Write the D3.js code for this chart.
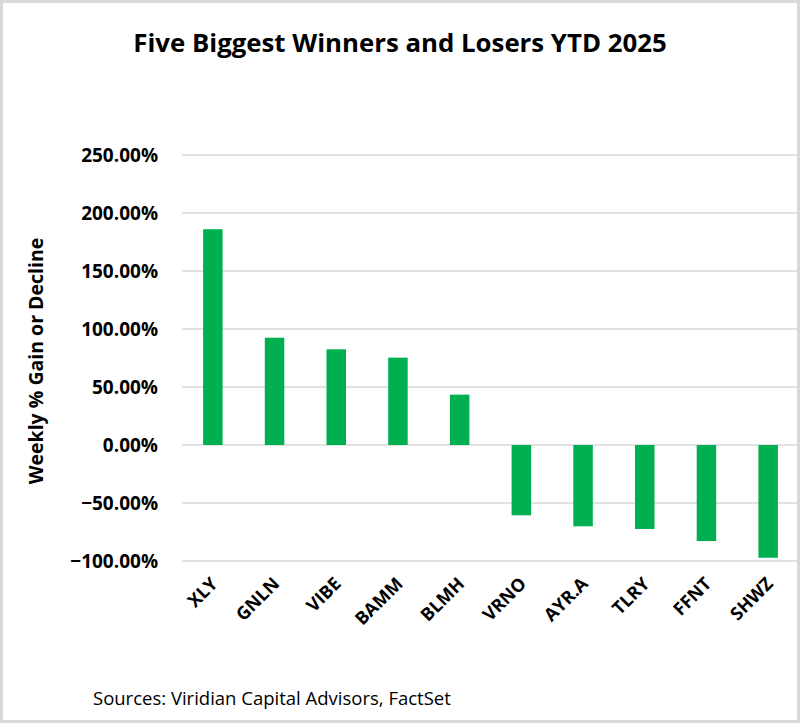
<!DOCTYPE html>
<html>
<head>
<meta charset="utf-8">
<script src="https://cdn.jsdelivr.net/npm/d3@7"></script>
<style>
  html, body { margin: 0; padding: 0; background: #fff; }
  svg { display: block; }
  text { font-family: "Open Sans", "Noto Sans", sans-serif; fill: #000; }
</style>
</head>
<body>
<svg id="chart" width="800" height="723"></svg>
<script>
const categories = ["XLY", "GNLN", "VIBE", "BAMM", "BLMH", "VRNO", "AYR.A", "TLRY", "FFNT", "SHWZ"];
const values = [186.0, 92.5, 82.5, 75.3, 43.4, -60.6, -70.1, -72.4, -82.8, -97.2];
const yTicks = [250, 200, 150, 100, 50, 0, -50, -100];
const titleText = "Five Biggest Winners and Losers YTD 2025";
const yTitle = "Weekly % Gain or Decline";
const sourceText = "Sources: Viridian Capital Advisors, FactSet";

const svg = d3.select("#chart");
const W = 800, H = 723;

// frame
svg.append("rect").attr("x", 1.5).attr("y", 1.5).attr("width", W - 3).attr("height", H - 3)
  .attr("fill", "#fff").attr("stroke", "#d9d9d9").attr("stroke-width", 3);

const x = d3.scaleBand().domain(categories).range([182, 799]).paddingInner(0.684).paddingOuter(0.342);
const y = d3.scaleLinear().domain([-100, 250]).range([561, 155]);

// gridlines
svg.append("g").selectAll("line").data(yTicks).join("line")
  .attr("x1", 182).attr("x2", 797)
  .attr("y1", d => y(d)).attr("y2", d => y(d))
  .attr("stroke", "#d9d9d9").attr("stroke-width", 1.5);

// y tick labels
svg.append("g").selectAll("text").data(yTicks).join("text")
  .attr("x", 158).attr("y", d => y(d))
  .attr("text-anchor", "end").attr("dominant-baseline", "central")
  .attr("font-size", 19).attr("font-weight", "bold")
  .text(d => d3.format(".2f")(d) + "%");

// bars
svg.append("g").selectAll("rect").data(values).join("rect")
  .attr("x", (d, i) => x(categories[i]))
  .attr("width", x.bandwidth())
  .attr("y", d => Math.min(y(d), y(0)))
  .attr("height", d => Math.abs(y(d) - y(0)))
  .attr("fill", "#00b050");

// x labels
svg.append("g").selectAll("text").data(categories).join("text")
  .attr("transform", d => `translate(${x(d) + x.bandwidth() / 2 + 1},${580}) rotate(-45)`)
  .attr("text-anchor", "end").attr("dominant-baseline", "central")
  .attr("font-size", 18).attr("font-weight", "bold")
  .text(d => d);

// title
svg.append("text").attr("x", 400).attr("y", 42)
  .attr("text-anchor", "middle").attr("dominant-baseline", "central")
  .attr("font-size", 25.8).attr("font-weight", "bold")
  .text(titleText);

// y title
svg.append("text").attr("transform", `translate(35,${361}) rotate(-90)`)
  .attr("text-anchor", "middle").attr("dominant-baseline", "central")
  .attr("font-size", 19.5).attr("font-weight", "bold")
  .text(yTitle);

// sources
svg.append("text").attr("x", 93).attr("y", 697)
  .attr("dominant-baseline", "central")
  .attr("font-size", 18.5)
  .text(sourceText);
</script>
</body>
</html>
